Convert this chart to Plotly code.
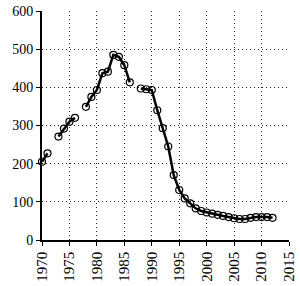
import plotly.graph_objects as go

years = list(range(1970, 2013))
values = [205, 227, None, 271, 292, 310, 320, None, 349, 375,
          393, 437, 441, 485, 480, 458, 413, None, 397, 395,
          393, 340, 293, 245, 170, 131, 109, 96, 83, 76,
          72, 69, 66, 63, 60, 57, 55, 55, 58, 60,
          60, 60, 58]

x_ticks = list(range(1970, 2016, 5))
y_ticks = list(range(0, 601, 100))

fig = go.Figure()
fig.add_trace(go.Scatter(
    x=years, y=values, mode="lines+markers",
    line=dict(color="black", width=2.5),
    marker=dict(symbol="circle-open", size=7, color="black", line=dict(width=1.2)),
    connectgaps=False, showlegend=False, cliponaxis=False,
))

fig.update_layout(
    width=300, height=286,
    margin=dict(l=42, r=11, t=11, b=46),
    paper_bgcolor="white", plot_bgcolor="white",
    font=dict(family="Liberation Serif", size=14, color="black"),
)
fig.update_xaxes(
    range=[1970, 2015], tickvals=x_ticks, ticktext=[str(t) for t in x_ticks],
    tickangle=-90, showgrid=True, gridcolor="#222", griddash="1px,3px", gridwidth=1,
    showline=True, linecolor="black", linewidth=1.5,
    ticks="outside", ticklen=4, tickcolor="black", zeroline=False,
    tickfont=dict(size=15), automargin=False,
)
fig.update_yaxes(
    range=[0, 600], tickvals=y_ticks,
    showgrid=True, gridcolor="#222", griddash="1px,3px", gridwidth=1,
    showline=True, linecolor="black", linewidth=2,
    ticks="outside", ticklen=4, tickcolor="black", zeroline=False,
    tickfont=dict(size=14), automargin=False,
)
fig.write_html("out.html")
